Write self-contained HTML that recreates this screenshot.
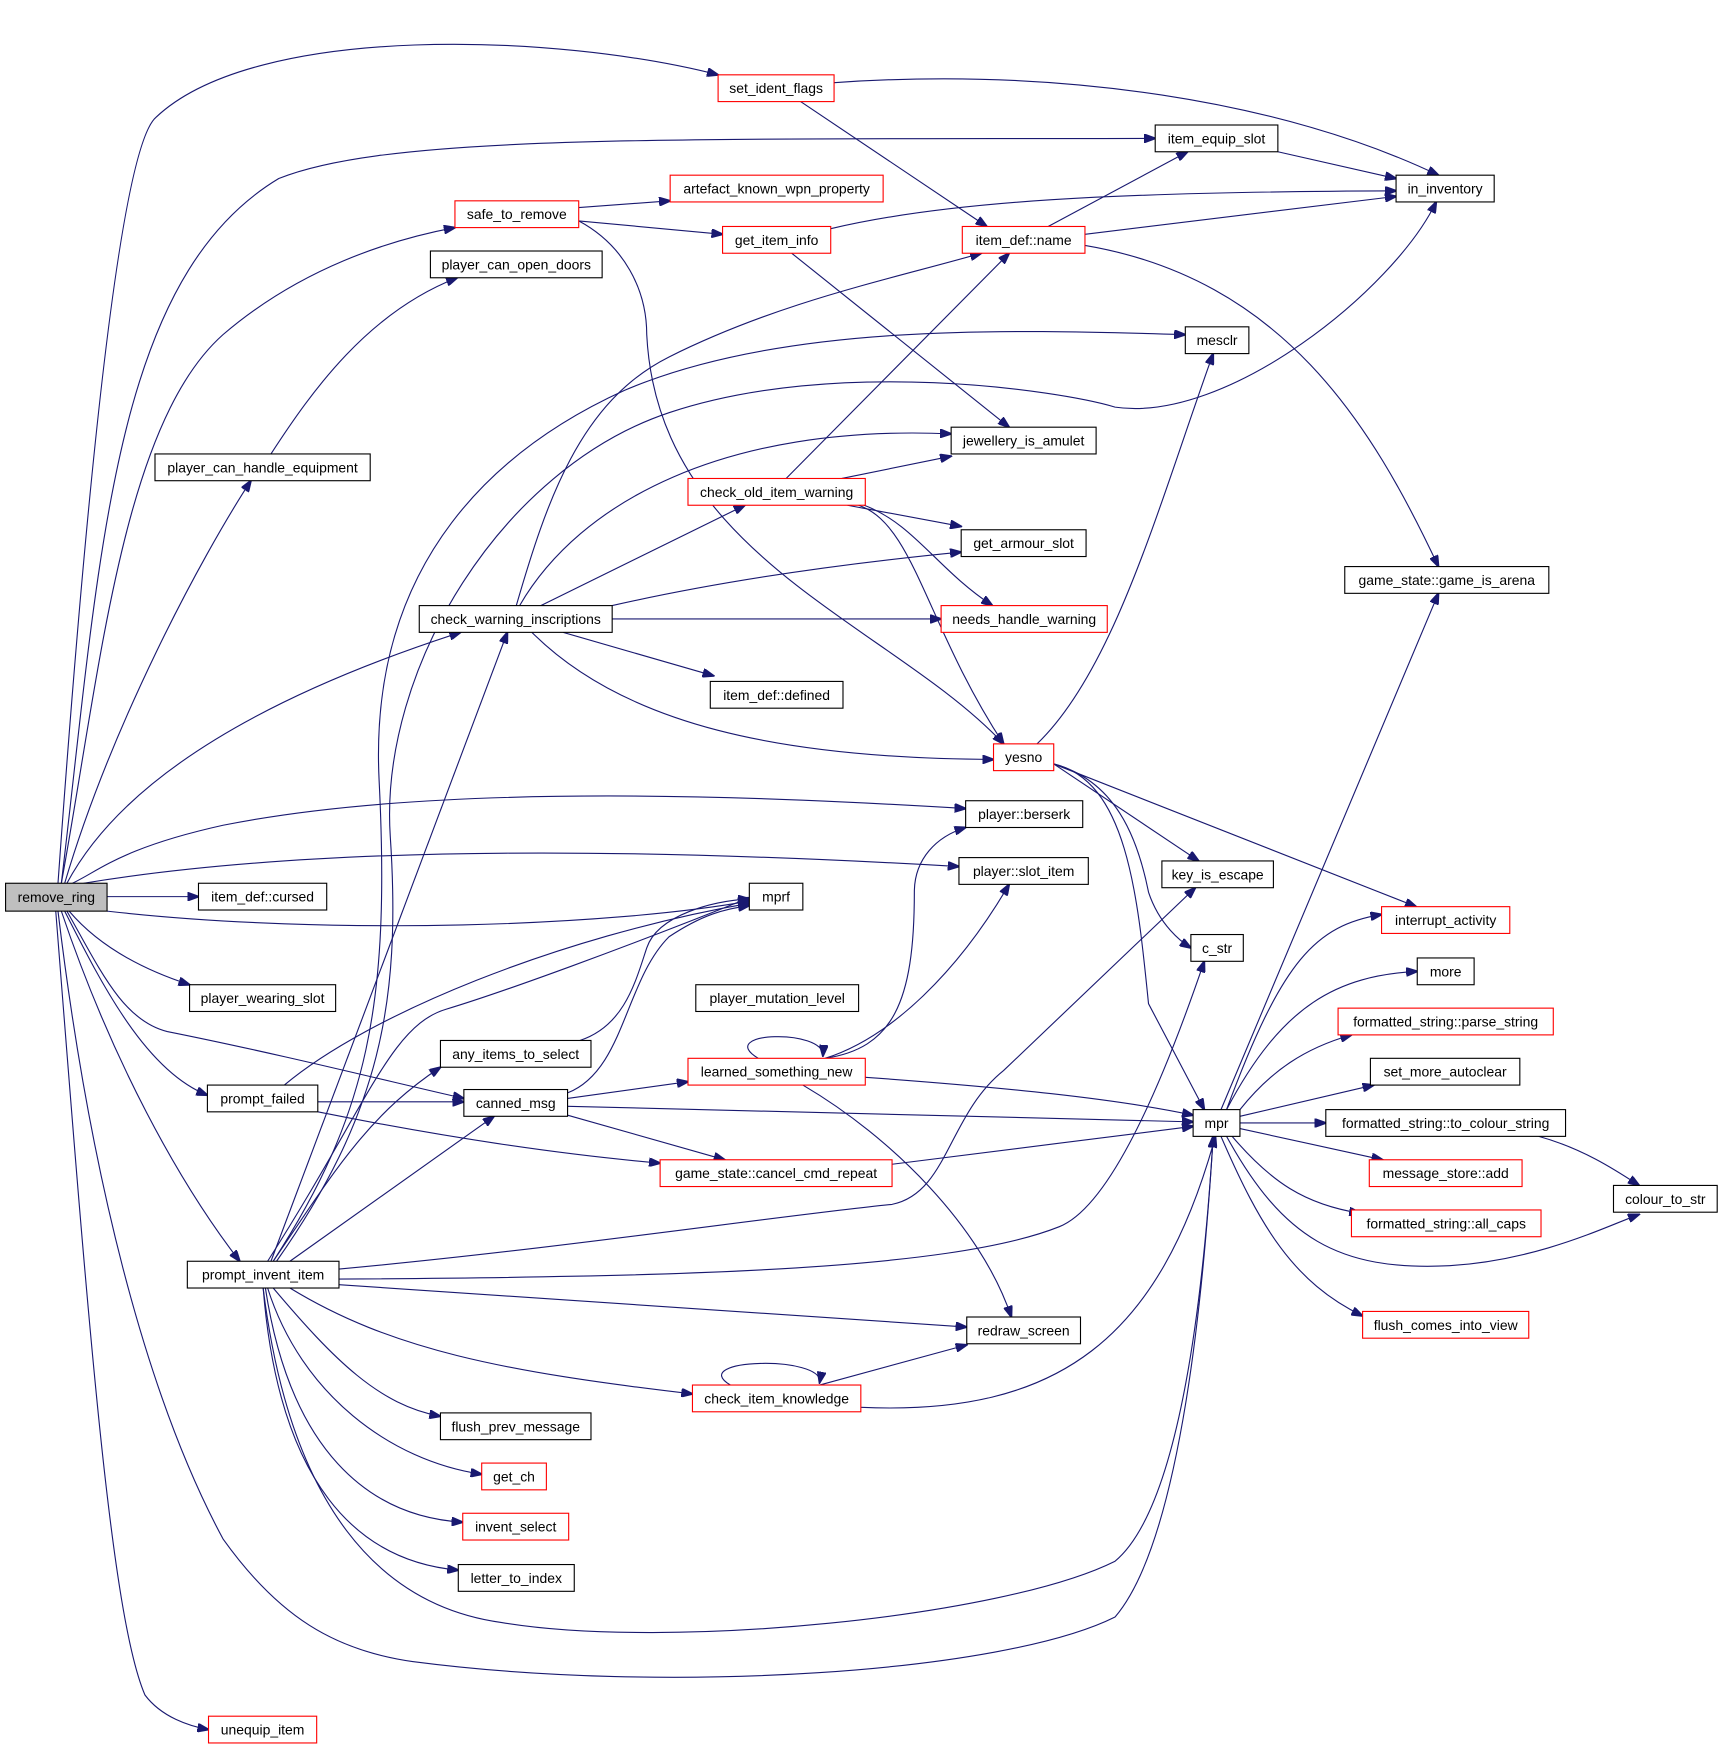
<!DOCTYPE html>
<html><head><meta charset="utf-8"><style>
html,body{margin:0;padding:0;background:#fff;}
svg{display:block}
text{font-family:"Liberation Sans",sans-serif;font-size:12.5px;fill:#000;text-anchor:middle;dominant-baseline:central}
rect{fill:#fff;stroke:#000;stroke-width:1}
rect.r{stroke:#f00}
path{fill:none;stroke:#191970;stroke-width:1;marker-end:url(#a)}
</style></head><body>
<svg width="1725" height="1752" viewBox="0 0 1547 1571" xmlns="http://www.w3.org/2000/svg">
<defs><marker id="a" markerUnits="userSpaceOnUse" markerWidth="11" markerHeight="8" refX="10" refY="4" orient="auto"><polygon points="0,0 11,4 0,8" fill="#191970" stroke="#191970"/></marker></defs>
<g>
<path d="M52,792 C80,400 110,130 140,105 C230,20 500,30 644,67"/>
<path d="M55,792 C90,500 100,250 250,160 C350,120 600,125 1036,124"/>
<path d="M55,792 C90,600 110,380 200,300 C270,240 350,215 408,204"/>
<path d="M58,792 C100,650 180,500 225,431"/>
<path d="M60,792 C120,680 280,610 413,567"/>
<path d="M65,792 C90,780 110,760 200,740 C400,700 700,715 866,725"/>
<path d="M75,792 C300,755 600,762 860,777"/>
<path d="M96,804 L178,804"/>
<path d="M96,817 C300,840 550,830 672,808"/>
<path d="M62,817 C90,850 130,870 170,883"/>
<path d="M58,817 C90,880 130,960 186,982"/>
<path d="M60,817 C90,870 110,915 150,925 C250,945 350,970 416,985"/>
<path d="M55,817 C100,950 160,1060 215,1131"/>
<path d="M52,817 C80,1050 130,1250 200,1380 C250,1450 300,1480 370,1490 C600,1520 900,1500 1000,1450 C1060,1380 1080,1150 1088,1019"/>
<path d="M50,817 C80,1200 100,1450 130,1520 C145,1540 170,1548 187,1551"/>
<path d="M748,74 C950,60 1150,90 1290,157"/>
<path d="M718,91 L885,203"/>
<path d="M1146,136 L1252,160"/>
<path d="M519,186 L601,180"/>
<path d="M519,198 L648,210"/>
<path d="M519,198 C560,220 580,260 580,300 C590,500 800,560 900,667"/>
<path d="M745,205 C850,180 1000,172 1252,171"/>
<path d="M710,227 L905,383"/>
<path d="M940,203 L1065,136"/>
<path d="M973,210 L1252,176"/>
<path d="M973,220 C1150,250 1230,380 1290,508"/>
<path d="M243,407 C280,350 330,280 410,249"/>
<path d="M463,543 C490,450 520,360 600,320 C700,270 800,250 880,227"/>
<path d="M245,1131 C330,1000 350,900 340,700 C330,500 450,400 560,350 C700,290 900,295 1063,300"/>
<path d="M248,1131 C340,1000 360,900 350,750 C340,600 450,420 600,370 C750,320 950,350 1000,365 C1100,380 1250,260 1288,181"/>
<path d="M466,543 C520,450 650,380 853,389"/>
<path d="M485,543 L668,453"/>
<path d="M549,543 C650,520 760,505 862,495"/>
<path d="M549,555 L844,555"/>
<path d="M505,567 L640,606"/>
<path d="M477,567 C560,650 700,680 891,681"/>
<path d="M705,429 L905,227"/>
<path d="M755,429 L853,409"/>
<path d="M760,453 L862,472"/>
<path d="M775,453 C820,470 840,510 890,543"/>
<path d="M770,453 C820,470 830,560 900,667"/>
<path d="M930,667 C1000,600 1040,450 1088,317"/>
<path d="M945,685 L1075,772"/>
<path d="M945,685 C1000,700 1020,750 1030,800 C1040,830 1060,845 1068,850"/>
<path d="M945,685 L1270,813"/>
<path d="M945,685 C1010,700 1020,800 1030,900 L1080,995"/>
<path d="M680,949 C640,925 740,922 738,947"/>
<path d="M740,949 C800,940 820,900 820,800 C820,770 840,750 866,742"/>
<path d="M740,949 C800,930 860,870 905,793"/>
<path d="M776,966 C900,975 1000,985 1070,1000"/>
<path d="M720,973 C800,1020 880,1100 907,1181"/>
<path d="M520,933 C560,920 570,880 580,850 C590,820 640,808 672,806"/>
<path d="M509,980 C560,960 560,880 600,840 C630,820 650,815 672,812"/>
<path d="M509,985 L617,970"/>
<path d="M509,992 L1070,1006"/>
<path d="M509,1000 L650,1040"/>
<path d="M255,973 C330,910 500,840 672,810"/>
<path d="M285,988 L416,988"/>
<path d="M285,997 C400,1020 500,1035 592,1043"/>
<path d="M800,1044 L1070,1010"/>
<path d="M245,1131 C300,1050 330,1000 395,957"/>
<path d="M260,1131 L443,1001"/>
<path d="M243,1131 L455,567"/>
<path d="M240,1131 C330,990 350,920 400,905 C450,890 560,850 672,805"/>
<path d="M304,1138 C500,1120 700,1090 800,1080 C850,1070 850,1000 900,960 L1072,796"/>
<path d="M304,1147 C600,1145 850,1140 950,1100 C1000,1080 1050,950 1080,862"/>
<path d="M304,1152 L867,1190"/>
<path d="M260,1155 C350,1210 450,1230 621,1250"/>
<path d="M245,1155 C300,1220 340,1260 395,1270"/>
<path d="M240,1155 C270,1250 350,1310 432,1322"/>
<path d="M238,1155 C260,1300 330,1360 415,1365"/>
<path d="M236,1155 C250,1330 320,1400 411,1408"/>
<path d="M236,1155 C260,1350 340,1440 450,1455 C600,1480 900,1450 1000,1400 C1060,1350 1080,1150 1088,1019"/>
<path d="M655,1242 C615,1218 740,1215 735,1240"/>
<path d="M735,1242 L867,1206"/>
<path d="M772,1262 C950,1270 1040,1200 1090,1019"/>
<path d="M1095,995 L1290,532"/>
<path d="M1100,995 C1150,860 1180,830 1239,820"/>
<path d="M1100,995 C1150,900 1200,875 1271,871"/>
<path d="M1112,995 C1140,960 1170,940 1212,928"/>
<path d="M1112,1001 L1232,973"/>
<path d="M1112,1007 L1189,1007"/>
<path d="M1112,1012 L1240,1040"/>
<path d="M1105,1019 C1140,1060 1170,1080 1220,1088"/>
<path d="M1100,1019 C1150,1110 1200,1140 1300,1135 C1380,1130 1440,1100 1470,1089"/>
<path d="M1095,1019 C1130,1100 1160,1150 1222,1180"/>
<path d="M1380,1019 C1420,1030 1450,1050 1470,1063"/>
</g>
<g>
<rect x="5" y="792" width="91" height="25" style="fill:#bfbfbf"/><text x="50.5" y="804.5">remove_ring</text>
<rect class="r" x="644" y="67" width="104" height="24"/><text x="696" y="79">set_ident_flags</text>
<rect x="1036" y="112" width="110" height="24"/><text x="1091" y="124">item_equip_slot</text>
<rect x="1252" y="157" width="88" height="24"/><text x="1296" y="169">in_inventory</text>
<rect class="r" x="408" y="180" width="111" height="24"/><text x="463.5" y="192">safe_to_remove</text>
<rect class="r" x="601" y="157" width="191" height="24"/><text x="696.5" y="169">artefact_known_wpn_property</text>
<rect class="r" x="648" y="203" width="97" height="24"/><text x="696.5" y="215">get_item_info</text>
<rect class="r" x="863" y="203" width="110" height="24"/><text x="918" y="215">item_def::name</text>
<rect x="386" y="225" width="154" height="24"/><text x="463" y="237">player_can_open_doors</text>
<rect x="1063" y="293" width="57" height="24"/><text x="1091.5" y="305">mesclr</text>
<rect x="139" y="407" width="193" height="24"/><text x="235.5" y="419">player_can_handle_equipment</text>
<rect x="853" y="383" width="130" height="24"/><text x="918" y="395">jewellery_is_amulet</text>
<rect class="r" x="617" y="429" width="159" height="24"/><text x="696.5" y="441">check_old_item_warning</text>
<rect x="862" y="475" width="112" height="24"/><text x="918" y="487">get_armour_slot</text>
<rect x="1206" y="508" width="183" height="24"/><text x="1297.5" y="520">game_state::game_is_arena</text>
<rect x="376" y="543" width="173" height="24"/><text x="462.5" y="555">check_warning_inscriptions</text>
<rect class="r" x="844" y="543" width="149" height="24"/><text x="918.5" y="555">needs_handle_warning</text>
<rect x="637" y="611" width="119" height="24"/><text x="696.5" y="623">item_def::defined</text>
<rect class="r" x="891" y="667" width="54" height="24"/><text x="918" y="679">yesno</text>
<rect x="866" y="718" width="105" height="24"/><text x="918.5" y="730">player::berserk</text>
<rect x="860" y="769" width="116" height="24"/><text x="918" y="781">player::slot_item</text>
<rect x="1042" y="772" width="100" height="24"/><text x="1092" y="784">key_is_escape</text>
<rect x="178" y="792" width="115" height="24"/><text x="235.5" y="804">item_def::cursed</text>
<rect x="672" y="792" width="48" height="24"/><text x="696" y="804">mprf</text>
<rect class="r" x="1239" y="813" width="115" height="24"/><text x="1296.5" y="825">interrupt_activity</text>
<rect x="1068" y="838" width="47" height="24"/><text x="1091.5" y="850">c_str</text>
<rect x="1271" y="859" width="51" height="24"/><text x="1296.5" y="871">more</text>
<rect x="170" y="883" width="131" height="24"/><text x="235.5" y="895">player_wearing_slot</text>
<rect x="624" y="883" width="146" height="24"/><text x="697" y="895">player_mutation_level</text>
<rect class="r" x="1200" y="904" width="193" height="24"/><text x="1296.5" y="916">formatted_string::parse_string</text>
<rect x="395" y="933" width="135" height="24"/><text x="462.5" y="945">any_items_to_select</text>
<rect class="r" x="617" y="949" width="159" height="24"/><text x="696.5" y="961">learned_something_new</text>
<rect x="1229" y="949" width="134" height="24"/><text x="1296" y="961">set_more_autoclear</text>
<rect x="186" y="973" width="99" height="24"/><text x="235.5" y="985">prompt_failed</text>
<rect x="416" y="977" width="93" height="24"/><text x="462.5" y="989">canned_msg</text>
<rect x="1070" y="995" width="42" height="24"/><text x="1091" y="1007">mpr</text>
<rect x="1189" y="995" width="215" height="24"/><text x="1296.5" y="1007">formatted_string::to_colour_string</text>
<rect class="r" x="592" y="1040" width="208" height="24"/><text x="696" y="1052">game_state::cancel_cmd_repeat</text>
<rect class="r" x="1228" y="1040" width="137" height="24"/><text x="1296.5" y="1052">message_store::add</text>
<rect x="1447" y="1063" width="93" height="24"/><text x="1493.5" y="1075">colour_to_str</text>
<rect class="r" x="1212" y="1085" width="170" height="24"/><text x="1297" y="1097">formatted_string::all_caps</text>
<rect x="168" y="1131" width="136" height="24"/><text x="236" y="1143">prompt_invent_item</text>
<rect class="r" x="1222" y="1176" width="149" height="24"/><text x="1296.5" y="1188">flush_comes_into_view</text>
<rect x="867" y="1181" width="102" height="24"/><text x="918" y="1193">redraw_screen</text>
<rect class="r" x="621" y="1242" width="151" height="24"/><text x="696.5" y="1254">check_item_knowledge</text>
<rect x="395" y="1267" width="135" height="24"/><text x="462.5" y="1279">flush_prev_message</text>
<rect class="r" x="432" y="1312" width="58" height="24"/><text x="461" y="1324">get_ch</text>
<rect class="r" x="415" y="1357" width="95" height="24"/><text x="462.5" y="1369">invent_select</text>
<rect x="411" y="1403" width="104" height="24"/><text x="463" y="1415">letter_to_index</text>
<rect class="r" x="187" y="1539" width="97" height="24"/><text x="235.5" y="1551">unequip_item</text>
</g>
</svg>
</body></html>
